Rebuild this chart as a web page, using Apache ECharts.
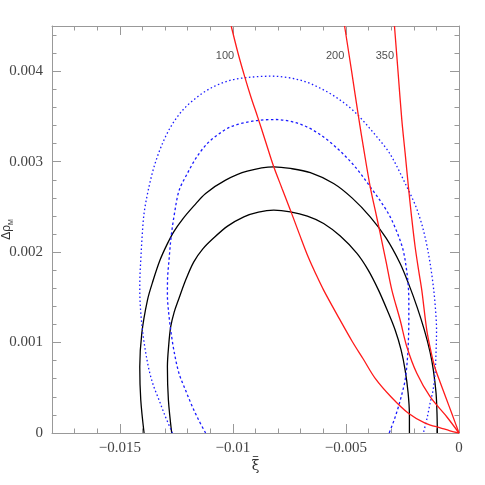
<!DOCTYPE html>
<html>
<head>
<meta charset="utf-8">
<script src="https://cdn.jsdelivr.net/npm/echarts@6/dist/echarts.min.js"></script>
<style>
  html, body { margin: 0; padding: 0; background: #fff; }
  #chart { width: 485px; height: 485px; }
</style>
</head>
<body>
<div id="chart"></div>
<script>
// solid contours (black)
const blackOuterX = [-0.013928, -0.014074, -0.014118, -0.014029, -0.013778, -0.013522, -0.013222, -0.012927, -0.012618, -0.012221, -0.011736, -0.011206, -0.010324, -0.009366, -0.008193, -0.007456, -0.006574, -0.005546, -0.004721, -0.003927, -0.003221, -0.002603, -0.002206, -0.001853, -0.001531, -0.001279, -0.001134, -0.001015, -0.000971, -0.000957]
const blackOuterY = [0, 0.000365, 0.000733, 0.001102, 0.00147, 0.001691, 0.001912, 0.002077, 0.002224, 0.002365, 0.002508, 0.002649, 0.002796, 0.002895, 0.002943, 0.002925, 0.002878, 0.002759, 0.002597, 0.00239, 0.002155, 0.001875, 0.001635, 0.001392, 0.001138, 0.000895, 0.000696, 0.000442, 0.000199, 0]
const blackInnerX = [-0.012706, -0.012852, -0.012896, -0.012838, -0.01275, -0.012596, -0.01241, -0.012088, -0.011735, -0.011338, -0.010853, -0.010235, -0.009516, -0.008868, -0.008193, -0.007456, -0.006706, -0.005987, -0.00525, -0.004513, -0.004015, -0.00356, -0.003176, -0.002824, -0.002559, -0.002382, -0.00225, -0.002193, -0.002193]
const blackInnerY = [0, 0.000365, 0.000733, 0.000972, 0.001175, 0.001337, 0.00147, 0.001691, 0.001889, 0.002033, 0.002155, 0.002287, 0.00239, 0.002442, 0.002464, 0.002445, 0.002398, 0.002317, 0.002177, 0.001986, 0.001801, 0.00158, 0.001359, 0.001138, 0.000917, 0.000696, 0.000442, 0.000199, 0]

// dotted contours (blue)
const blueOuterX = [-0.012675, -0.013015, -0.013266, -0.013522, -0.013707, -0.013875, -0.013999, -0.014082, -0.014118, -0.014109, -0.014074, -0.014016, -0.013928, -0.013743, -0.013487, -0.013147, -0.01275, -0.012221, -0.011572, -0.010897, -0.010103, -0.009221, -0.008263, -0.007015, -0.006132, -0.00525, -0.004513, -0.003631, -0.003044, -0.002307, -0.001897, -0.001575, -0.001324, -0.001134, -0.001037, -0.000993, -0.001015, -0.001059, -0.001147, -0.001279, -0.001412, -0.001575]
const blueOuterY = [0, 0.000199, 0.000365, 0.00053, 0.000696, 0.000917, 0.001138, 0.001359, 0.00158, 0.001746, 0.001912, 0.002166, 0.002428, 0.002685, 0.002943, 0.003182, 0.003385, 0.003569, 0.003716, 0.003823, 0.003901, 0.003934, 0.003945, 0.003901, 0.003812, 0.00368, 0.003525, 0.003274, 0.003083, 0.002722, 0.002497, 0.002243, 0.001945, 0.001617, 0.001359, 0.001138, 0.000895, 0.00066, 0.000475, 0.000328, 0.000166, 0]
const blueInnerX = [-0.011206, -0.011515, -0.011793, -0.012088, -0.012384, -0.012596, -0.01275, -0.012852, -0.012896, -0.012891, -0.012825, -0.012728, -0.012574, -0.012375, -0.012013, -0.011603, -0.011131, -0.010632, -0.010103, -0.009132, -0.008118, -0.007015, -0.006132, -0.00525, -0.004544, -0.003927, -0.003441, -0.003044, -0.002691, -0.002471, -0.002338, -0.00225, -0.002219, -0.002219, -0.002237, -0.002285, -0.002382, -0.002537, -0.002678, -0.002868, -0.003088]
const blueInnerY = [0, 0.000144, 0.000291, 0.00047, 0.00066, 0.000895, 0.001138, 0.001359, 0.001525, 0.001691, 0.001912, 0.002177, 0.002442, 0.002685, 0.00287, 0.00305, 0.003201, 0.003304, 0.003385, 0.003448, 0.003466, 0.003414, 0.003298, 0.003116, 0.002928, 0.002722, 0.002552, 0.00239, 0.002188, 0.002022, 0.001838, 0.001646, 0.00147, 0.001249, 0.001028, 0.000807, 0.000586, 0.00042, 0.000291, 0.000144, 0]

// red curves, labelled 100 / 200 / 350
const curveNames = ['100', '200', '350']
const red100X = [-0.010072, -0.009772, -0.009472, -0.009199, -0.008899, -0.008559, -0.008193, -0.007831, -0.007456, -0.007059, -0.006649, -0.006309, -0.005987, -0.005382, -0.004721, -0.004235, -0.003706, -0.003, -0.002237, -0.0015, -0.000763, -0.000397, 0]
const red100Y = [0.004497, 0.004199, 0.003935, 0.003713, 0.00349, 0.003226, 0.002943, 0.002707, 0.002464, 0.002199, 0.001934, 0.001746, 0.00158, 0.001304, 0.001012, 0.000818, 0.000604, 0.000398, 0.000218, 0.00011, 0.000052, 0.000024, 0]
const red200X = [-0.00506, -0.004743, -0.004443, -0.004191, -0.003927, -0.003706, -0.003485, -0.003221, -0.002969, -0.002603, -0.002307, -0.001866, -0.001279, -0.000543, 0]
const red200Y = [0.0045, 0.003989, 0.003495, 0.003105, 0.002722, 0.002464, 0.002207, 0.001889, 0.00158, 0.001249, 0.000954, 0.00066, 0.000401, 0.00018, 0]
const red350X = [-0.002854, -0.002691, -0.002528, -0.002382, -0.002237, -0.002096, -0.001941, -0.001787, -0.001646, -0.001425, -0.001235, -0.001059, -0.000838, -0.000574, -0.000322, 0]
const red350Y = [0.0045, 0.003978, 0.003459, 0.003094, 0.002722, 0.002387, 0.002059, 0.001801, 0.00158, 0.001138, 0.000895, 0.000718, 0.000564, 0.000387, 0.000218, 0]
const curveLabelX = [-0.01035, -0.00548, -0.00328]
const curveLabelY = [0.00417, 0.00417, 0.00417]

// ticks
const xTicks = [-0.015, -0.01, -0.005, 0]
const yTicks = [0, 0.001, 0.002, 0.003, 0.004]

const axisGray = '#999'
const labelFont = 'Liberation Serif'

const toPts = (xs, ys) => xs.map((x, i) => [x, ys[i]])

function curve(name, xs, ys, color, type) {
  return {
    name: name,
    type: 'line',
    data: toPts(xs, ys),
    smooth: 0.33,
    symbol: 'none',
    clip: true,
    silent: true,
    lineStyle: { color: color, width: 1.3, type: type }
  }
}

function xAxisBox(pos, major, withLabels) {
  const ax = {
    type: 'value',
    position: pos,
    min: -0.018,
    max: 0,
    splitLine: { show: false },
    axisLine: { show: !major, onZero: false, lineStyle: { color: axisGray } },
    axisTick: { inside: true, length: major ? 9 : 4.5, lineStyle: { color: axisGray } },
    axisLabel: { show: false }
  }
  if (major) {
    ax.axisTick.customValues = xTicks
  } else {
    ax.interval = 0.001
  }
  if (withLabels) {
    ax.axisLabel = {
      show: true,
      customValues: xTicks,
      margin: 8,
      color: '#444',
      fontFamily: labelFont,
      fontSize: 15,
      formatter: v => (v === 0 ? '0' : '\u2212' + String(+(-v).toFixed(3)))
    }
    // xi with a bar over it
    ax.name = '{o|\u2013}\n{x|\u03be}'
    ax.nameLocation = 'middle'
    ax.nameGap = 22
    ax.nameMoveOverlap = false
    ax.nameTextStyle = {
      rich: {
        o: { fontFamily: 'DejaVu Serif', fontSize: 13, lineHeight: 4, color: '#333', align: 'center' },
        x: { fontFamily: 'DejaVu Serif', fontSize: 14, lineHeight: 14, color: '#333', align: 'center' }
      }
    }
  }
  return ax
}

function yAxisBox(pos, withLabels) {
  const ax = {
    type: 'value',
    position: pos,
    min: 0,
    max: 0.0045,
    interval: 0.001,
    splitLine: { show: false },
    axisLine: { show: true, onZero: false, lineStyle: { color: axisGray } },
    axisTick: { inside: true, length: 9, lineStyle: { color: axisGray } },
    minorTick: { show: true, splitNumber: 5, length: 4.5, lineStyle: { color: axisGray } },
    axisLabel: { show: false }
  }
  if (withLabels) {
    ax.axisLabel = {
      show: true,
      customValues: yTicks,
      margin: 9,
      color: '#444',
      fontFamily: labelFont,
      fontSize: 15,
      formatter: v => (v === 0 ? '0' : String(+v.toFixed(3)))
    }
    ax.name = '{a|\u0394\u03c1}{b|M}'
    ax.nameLocation = 'middle'
    ax.nameGap = 37
    ax.nameMoveOverlap = false
    ax.nameRotate = 90
    ax.nameTextStyle = {
      color: '#333',
      rich: {
        a: { fontFamily: 'Liberation Sans', fontSize: 12, lineHeight: 16, color: '#333' },
        b: { fontFamily: 'Liberation Sans', fontSize: 7, verticalAlign: 'bottom', lineHeight: 16, padding: [5, 0, 0, 0], color: '#333' }
      }
    }
  }
  return ax
}

const chart = echarts.init(document.getElementById('chart'), null, { renderer: 'canvas' })

const series = [
  curve('outer', blackOuterX, blackOuterY, '#000', 'solid'),
  curve('inner', blackInnerX, blackInnerY, '#000', 'solid'),
  curve('outer dotted', blueOuterX, blueOuterY, '#1a1aff', [1.5, 2.5]),
  curve('inner dotted', blueInnerX, blueInnerY, '#1a1aff', [2.5, 2.5]),
  curve(curveNames[0], red100X, red100Y, '#ff1a1a', 'solid'),
  curve(curveNames[1], red200X, red200Y, '#ff1a1a', 'solid'),
  curve(curveNames[2], red350X, red350Y, '#ff1a1a', 'solid'),
  {
    type: 'scatter',
    symbolSize: 0,
    silent: true,
    data: curveNames.map((n, i) => ({ name: n, value: [curveLabelX[i], curveLabelY[i]] })),
    label: {
      show: true,
      position: 'inside',
      formatter: p => p.name,
      color: '#222',
      fontFamily: 'Liberation Sans',
      fontSize: 11
    }
  }
]

const option = {
  animation: false,
  backgroundColor: '#fff',
  grid: { left: 52, right: 26, top: 26, bottom: 52, containLabel: false, outerBoundsMode: 'none' },
  xAxis: [
    xAxisBox('bottom', false, true),
    xAxisBox('bottom', true, false),
    xAxisBox('top', false, false),
    xAxisBox('top', true, false)
  ],
  yAxis: [
    yAxisBox('left', true),
    yAxisBox('right', false)
  ],
  series: series
}
chart.setOption(option)
</script>
</body>
</html>
